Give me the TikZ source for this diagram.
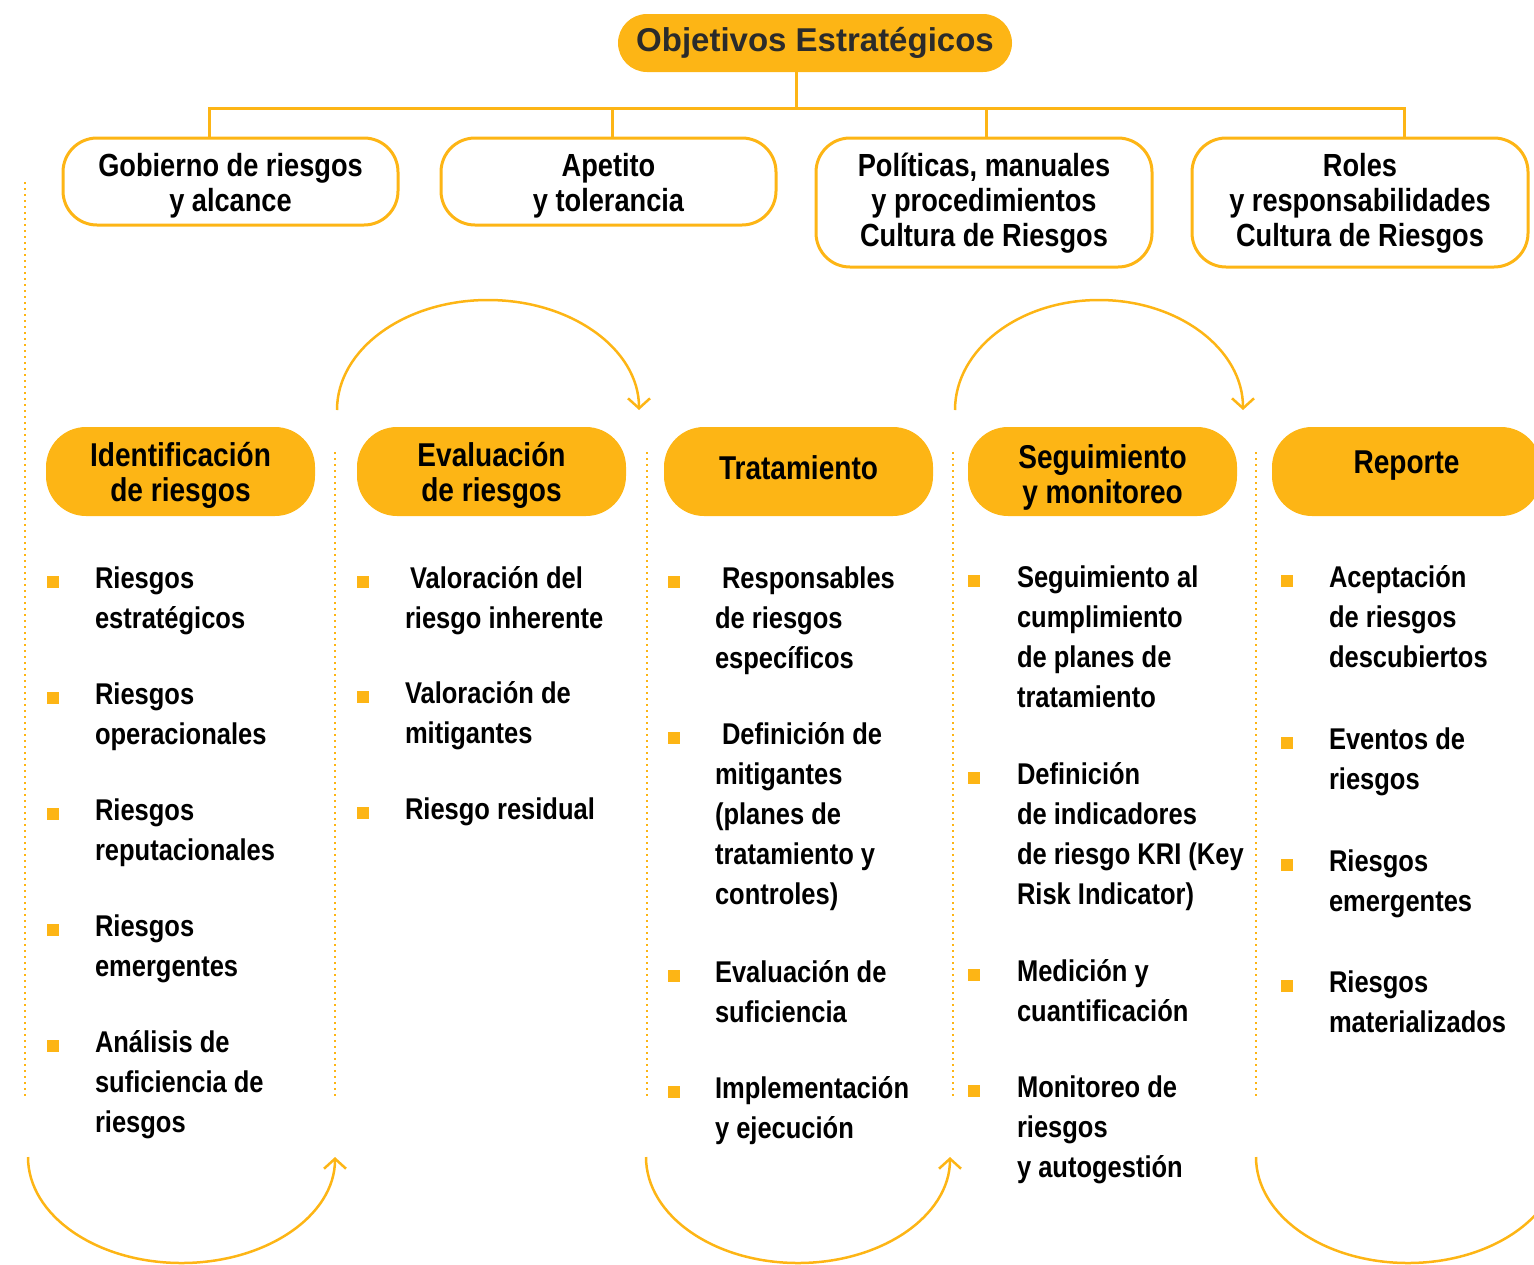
\documentclass[tikz,border=0pt]{standalone}
\usepackage{fontspec}
\setmainfont{Liberation Sans}
\newfontfamily\cond{Liberation Sans}[FakeStretch=0.85]
\usetikzlibrary{arrows.meta}
\definecolor{gold}{HTML}{FDB515}
\definecolor{titlegray}{HTML}{2B2B2B}
\tikzset{
 every node/.style={inner sep=0pt, outer sep=0pt},
 titlebox/.style={fill=gold, rounded corners=14.5pt, minimum width=197pt, minimum height=29pt, font=\bfseries\fontsize{16.5}{18}\selectfont, text=titlegray},
 topbox/.style={draw=gold, line width=1.5pt, fill=white, rounded corners=17pt},
 topboxtext/.style={align=center, font=\cond\bfseries\fontsize{16}{17.5}\selectfont},
 pill/.style={fill=gold, rounded corners=20pt, minimum width=134.5pt, minimum height=44.5pt},
 pilltext/.style={align=center, font=\cond\bfseries\fontsize{16.5}{17.5}\selectfont},
 itemtext/.style={anchor=north west, align=left, font=\cond\bfseries\fontsize{15}{20}\selectfont},
 bulletsq/.style={fill=gold, minimum size=6pt},
 connector/.style={draw=gold, line width=1.5pt, line join=miter},
 divider/.style={draw=gold, line width=1.1pt, dash pattern=on 1pt off 2pt},
 loopArrow/.style={draw=gold, line width=1.25pt, -{Straight Barb[length=5pt,width=11pt]}},
}
\begin{document}
\begin{tikzpicture}[x=0.5pt,y=-0.5pt]
\useasboundingbox (0,0) rectangle (1534,1264);
\clip (0,0) rectangle (1534,1264);

% title and top boxes
\node[titlebox] (title) at (815,43) {Objetivos Estratégicos};
\node[topbox, minimum width=167.5pt, minimum height=43.5pt] (box1) at (230.5,181.5) {};
\node[topbox, minimum width=167.5pt, minimum height=43.5pt] (box2) at (608.5,181.5) {};
\node[topbox, minimum width=168pt, minimum height=64.5pt] (box3) at (984,202.5) {};
\node[topbox, minimum width=168pt, minimum height=64.5pt] (box4) at (1360,202.5) {};
\node[topboxtext, yshift=-2pt] (box1t) at (box1) {Gobierno de riesgos\\y alcance};
\node[topboxtext, yshift=-2pt] (box2t) at (box2) {Apetito\\y tolerancia};
\node[topboxtext, yshift=-0.5pt] (box3t) at (box3) {Políticas, manuales\\y procedimientos\\Cultura de Riesgos};
\node[topboxtext, yshift=-0.5pt] (box4t) at (box4) {Roles\\y responsabilidades\\Cultura de Riesgos};

\coordinate (hub) at (796,108);
\coordinate (d1) at (209,108);
\coordinate (d2) at (612,108);
\coordinate (d3) at (986,108);
\coordinate (d4) at (1404,108);
\draw[connector] (title.south -| hub) -- (hub);
\draw[connector] (box1.north -| d1) -- (d1) -- (d4) -- (box4.north -| d4);
\draw[connector] (d2) -- (box2.north -| d2);
\draw[connector] (d3) -- (box3.north -| d3);

% dividers
\draw[divider] (25,182) -- (25,1097);
\draw[divider] (335,452) -- (335,1097);
\draw[divider] (647,452) -- (647,1097);
\draw[divider] (953,452) -- (953,1097);
\draw[divider] (1256,452) -- (1256,1097);

% phase pills
\node[pill] (p1) at (180.5,471.5) {};
\node[pill] (p2) at (491.5,471.5) {};
\node[pill] (p3) at (798.5,471.5) {};
\node[pill] (p4) at (1102.5,471.5) {};
\node[pill] (p5) at (1406.5,471.5) {};
\node[pilltext, yshift=-2pt] (p1t) at (p1) {Identificación\\de riesgos};
\node[pilltext, yshift=-2pt] (p2t) at (p2) {Evaluación\\de riesgos};
\node[pilltext, yshift=2pt] (p3t) at (p3) {Tratamiento};
\node[pilltext, yshift=-3pt] (p4t) at (p4) {Seguimiento\\y monitoreo};
\node[pilltext, yshift=3pt] (p5t) at (p5) {Reporte};

% cycle arrows
\coordinate (a1) at (337,410);
\coordinate (a2) at (955,410);
\coordinate (b1) at (28,1157);
\coordinate (b2) at (646,1157);
\coordinate (b3) at (1256,1157);
\draw[loopArrow] (a1) arc[start angle=180, end angle=360, x radius=151, y radius=110];
\draw[loopArrow] (a2) arc[start angle=180, end angle=360, x radius=144, y radius=110];
\draw[loopArrow] (b1) arc[start angle=180, end angle=0, x radius=153.5, y radius=106];
\draw[loopArrow] (b2) arc[start angle=180, end angle=0, x radius=152, y radius=106];
\draw[draw=gold, line width=1.25pt] (b3) arc[start angle=180, end angle=0, x radius=152, y radius=106];

% column 1
\node[bulletsq] (q11) at (53,582) {};
\node[bulletsq] (q12) at (53,698) {};
\node[bulletsq] (q13) at (53,814) {};
\node[bulletsq] (q14) at (53,930) {};
\node[bulletsq] (q15) at (53,1046) {};
\node[itemtext] (t11) at (95,560) {\strut Riesgos\\estratégicos};
\node[itemtext] (t12) at (95,676) {\strut Riesgos\\operacionales};
\node[itemtext] (t13) at (95,792) {\strut Riesgos\\reputacionales};
\node[itemtext] (t14) at (95,908) {\strut Riesgos\\emergentes};
\node[itemtext] (t15) at (95,1024) {\strut Análisis de\\suficiencia de\\riesgos};

% column 2
\node[bulletsq] (q21) at (363,582) {};
\node[bulletsq] (q22) at (363,697) {};
\node[bulletsq] (q23) at (363,813) {};
\node[itemtext] (t21) at (405,560) {\strut\hspace*{2.5pt}Valoración del\\riesgo inherente};
\node[itemtext] (t22) at (405,675) {\strut Valoración de\\mitigantes};
\node[itemtext] (t23) at (405,791) {\strut Riesgo residual};

% column 3
\node[bulletsq] (q31) at (674,582) {};
\node[bulletsq] (q32) at (674,738) {};
\node[bulletsq] (q33) at (674,976) {};
\node[bulletsq] (q34) at (674,1092) {};
\node[itemtext] (t31) at (715,560) {\strut\hspace*{3.5pt}Responsables\\de riesgos\\específicos};
\node[itemtext] (t32) at (715,716) {\strut\hspace*{3.5pt}Definición de\\mitigantes\\(planes de\\tratamiento y\\controles)};
\node[itemtext] (t33) at (715,954) {\strut Evaluación de\\suficiencia};
\node[itemtext] (t34) at (715,1070) {\strut Implementación\\y ejecución};

% column 4
\node[bulletsq] (q41) at (974,581) {};
\node[bulletsq] (q42) at (974,778) {};
\node[bulletsq] (q43) at (974,975) {};
\node[bulletsq] (q44) at (974,1091) {};
\node[itemtext] (t41) at (1017,559) {\strut Seguimiento al\\cumplimiento\\de planes de\\tratamiento};
\node[itemtext] (t42) at (1017,756) {\strut Definición\\de indicadores\\de riesgo KRI (Key\\Risk Indicator)};
\node[itemtext] (t43) at (1017,953) {\strut Medición y\\cuantificación};
\node[itemtext] (t44) at (1017,1069) {\strut Monitoreo de\\riesgos\\y autogestión};

% column 5
\node[bulletsq] (q51) at (1287,581) {};
\node[bulletsq] (q52) at (1287,743) {};
\node[bulletsq] (q53) at (1287,865) {};
\node[bulletsq] (q54) at (1287,986) {};
\node[itemtext] (t51) at (1329,559) {\strut Aceptación\\de riesgos\\descubiertos};
\node[itemtext] (t52) at (1329,721) {\strut Eventos de\\riesgos};
\node[itemtext] (t53) at (1329,843) {\strut Riesgos\\emergentes};
\node[itemtext] (t54) at (1329,964) {\strut Riesgos\\materializados};
\end{tikzpicture}
\end{document}
